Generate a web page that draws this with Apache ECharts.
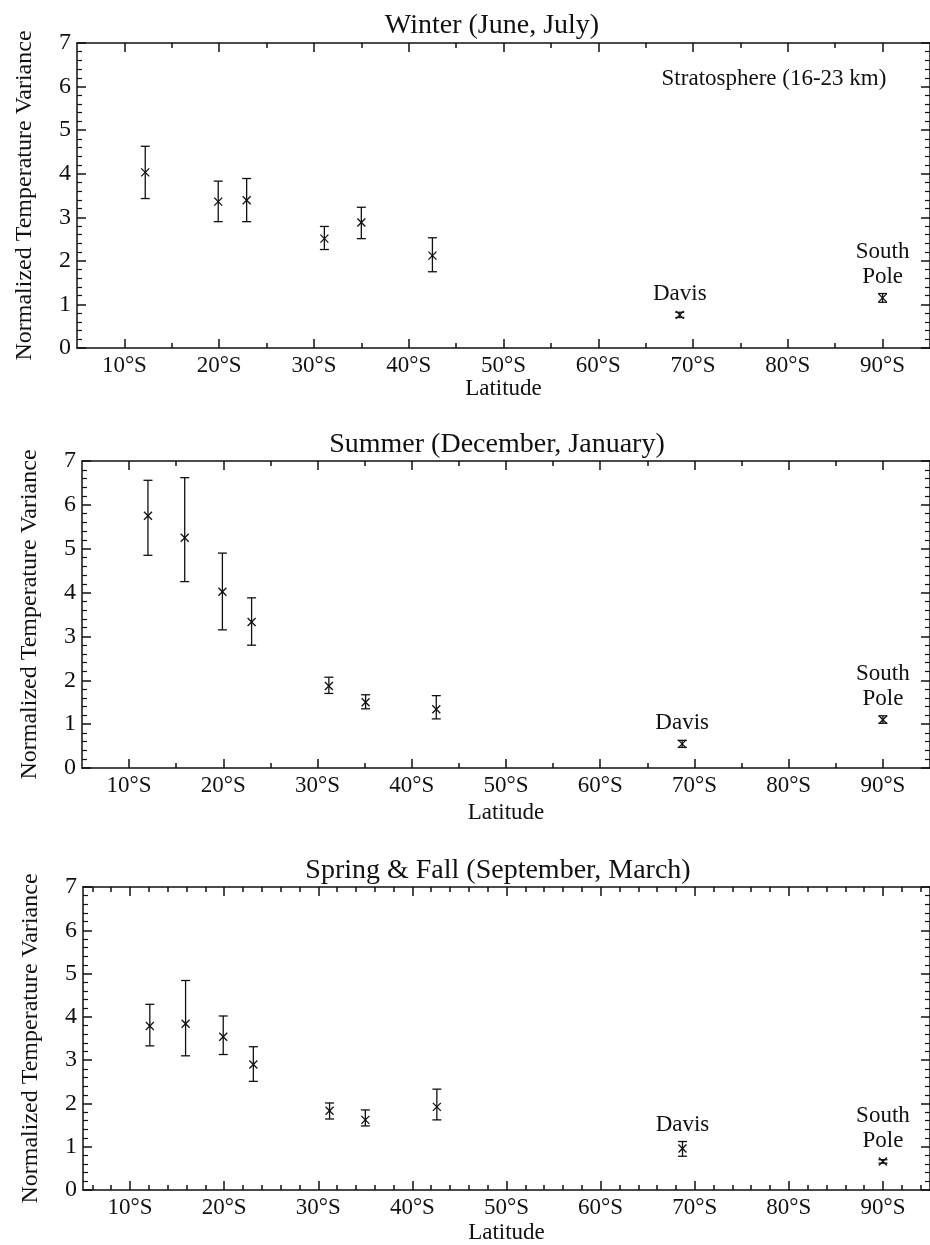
<!DOCTYPE html>
<html>
<head>
<meta charset="utf-8">
<script src="https://cdn.jsdelivr.net/npm/echarts@6/dist/echarts.min.js"></script>
<style>html,body{margin:0;padding:0;background:#fff}#c{width:930px;height:1245px}</style>
</head>
<body>
<div id="c"></div>
<script>
// ---- data ----
const panelTitles = ['Winter (June, July)', 'Summer (December, January)', 'Spring & Fall (September, March)'];
const xTickValues = [10, 20, 30, 40, 50, 60, 70, 80, 90];

const winterLat  = [12.2, 19.9, 22.9, 31.1, 35.0, 42.5, 68.6, 90.0];
const winterVal  = [4.03, 3.36, 3.39, 2.51, 2.88, 2.12, 0.76, 1.15];
const winterLow  = [3.43, 2.90, 2.90, 2.26, 2.51, 1.75, 0.70, 1.05];
const winterHigh = [4.63, 3.83, 3.89, 2.79, 3.23, 2.53, 0.82, 1.25];
const winterSite = ['', '', '', '', '', '', 'Davis', 'South\nPole'];

const summerLat  = [12.0, 15.9, 19.9, 23.0, 31.2, 35.1, 42.6, 68.7, 90.0];
const summerVal  = [5.75, 5.25, 4.02, 3.33, 1.87, 1.50, 1.34, 0.55, 1.10];
const summerLow  = [4.85, 4.25, 3.15, 2.80, 1.70, 1.35, 1.12, 0.47, 1.02];
const summerHigh = [6.56, 6.62, 4.90, 3.88, 2.07, 1.67, 1.65, 0.63, 1.19];
const summerSite = ['', '', '', '', '', '', '', 'Davis', 'South\nPole'];

const springLat  = [12.1, 15.9, 19.9, 23.1, 31.2, 35.0, 42.6, 68.7, 90.0];
const springVal  = [3.79, 3.84, 3.54, 2.90, 1.83, 1.62, 1.92, 0.96, 0.66];
const springLow  = [3.33, 3.10, 3.13, 2.51, 1.64, 1.48, 1.62, 0.78, 0.62];
const springHigh = [4.29, 4.84, 4.02, 3.31, 2.01, 1.85, 2.33, 1.12, 0.70];
const springSite = ['', '', '', '', '', '', '', 'Davis', 'South\nPole'];

const minorX5 = [15, 25, 35, 45, 55, 65, 75, 85];
const minorX2 = [6, 8, 12, 14, 16, 18, 22, 24, 26, 28, 32, 34, 36, 38, 42, 44, 46, 48, 52, 54, 56, 58, 62, 64, 66, 68, 72, 74, 76, 78, 82, 84, 86, 88, 92, 94];

// ---- chart ----
const FONT = '"Liberation Serif", "DejaVu Serif", serif';
const INK = '#111';
const panels = [
  {lat: winterLat, val: winterVal, low: winterLow, high: winterHigh, site: winterSite, minor: minorX5},
  {lat: summerLat, val: summerVal, low: summerLow, high: summerHigh, site: summerSite, minor: minorX5},
  {lat: springLat, val: springVal, low: springLow, high: springHigh, site: springSite, minor: minorX2}
];
const grids = [
  {left: 77, top: 43, right: 0, height: 305},
  {left: 82, top: 461, right: -5, height: 307},
  {left: 83, top: 887, right: -6, height: 307}
];
const titleTops = [12, 431, 857];
const titleCenters = [492, 497, 498];
const latGap = [28, 33, 31];

const xAxis = [], yAxis = [], series = [], title = [];
const lineStyle = {color: INK, width: 1.5};

grids.forEach((g, i) => {
  const p = panels[i];
  title.push({text: panelTitles[i], left: titleCenters[i], top: titleTops[i], textAlign: 'center', padding: 0,
    textStyle: {fontFamily: FONT, fontSize: 28, fontWeight: 'normal', color: INK}});
  const base = xAxis.length;
  // bottom main
  xAxis.push({gridIndex: i, type: 'value', min: 5, max: 95, position: 'bottom',
    axisLine: {show: true, onZero: false, lineStyle},
    axisTick: {show: true, inside: true, length: 9, customValues: xTickValues, lineStyle},
    axisLabel: {show: true, customValues: xTickValues, formatter: v => v + '°S', margin: 6,
      fontFamily: FONT, fontSize: 23, color: INK},
    splitLine: {show: false},
    name: 'Latitude', nameLocation: 'middle', nameGap: latGap[i],
    nameTextStyle: {fontFamily: FONT, fontSize: 23, color: INK}});
  // bottom minor
  xAxis.push({gridIndex: i, type: 'value', min: 5, max: 95, position: 'bottom',
    axisLine: {show: false, onZero: false},
    axisTick: {show: true, inside: true, length: 5, customValues: p.minor, lineStyle},
    axisLabel: {show: false}, splitLine: {show: false}});
  // top main
  xAxis.push({gridIndex: i, type: 'value', min: 5, max: 95, position: 'top',
    axisLine: {show: true, onZero: false, lineStyle},
    axisTick: {show: true, inside: true, length: 9, customValues: xTickValues, lineStyle},
    axisLabel: {show: false}, splitLine: {show: false}});
  // top minor
  xAxis.push({gridIndex: i, type: 'value', min: 5, max: 95, position: 'top',
    axisLine: {show: false, onZero: false},
    axisTick: {show: true, inside: true, length: 5, customValues: p.minor, lineStyle},
    axisLabel: {show: false}, splitLine: {show: false}});

  const yBase = yAxis.length;
  yAxis.push({gridIndex: i, type: 'value', min: 0, max: 7, interval: 1, position: 'left',
    axisLine: {show: true, onZero: false, lineStyle},
    axisTick: {show: true, inside: true, length: 9, lineStyle},
    minorTick: {show: true, splitNumber: 5, length: 5, lineStyle: {color: INK, width: 1.2}},
    axisLabel: {show: true, margin: 6, fontFamily: FONT, fontSize: 24, color: INK},
    splitLine: {show: false}, minorSplitLine: {show: false},
    name: 'Normalized Temperature Variance', nameLocation: 'middle', nameGap: 40,
    nameTextStyle: {fontFamily: FONT, fontSize: 24, color: INK}});
  yAxis.push({gridIndex: i, type: 'value', min: 0, max: 7, interval: 1, position: 'right',
    axisLine: {show: true, onZero: false, lineStyle},
    axisTick: {show: true, inside: true, length: 9, lineStyle},
    minorTick: {show: true, splitNumber: 5, length: 5, lineStyle: {color: INK, width: 1.2}},
    axisLabel: {show: false}, splitLine: {show: false}});

  const data = p.lat.map((x, k) => [x, p.val[k], p.low[k], p.high[k]]);
  const sites = p.site;
  series.push({
    type: 'custom', xAxisIndex: base, yAxisIndex: yBase, clip: false,
    encode: {x: 0, y: [1, 2, 3]},
    data: data,
    renderItem: function (params, api) {
      const x = api.value(0), v = api.value(1), lo = api.value(2), hi = api.value(3);
      const pc = api.coord([x, v]), pl = api.coord([x, lo]), ph = api.coord([x, hi]);
      const c = 4.5, m = 4;
      const st = {stroke: INK, lineWidth: 1.3, fill: null};
      const ch = [
        {type: 'line', shape: {x1: pc[0], y1: pl[1], x2: pc[0], y2: ph[1]}, style: st},
        {type: 'line', shape: {x1: pc[0] - c, y1: pl[1], x2: pc[0] + c, y2: pl[1]}, style: st},
        {type: 'line', shape: {x1: pc[0] - c, y1: ph[1], x2: pc[0] + c, y2: ph[1]}, style: st},
        {type: 'line', shape: {x1: pc[0] - m, y1: pc[1] - m, x2: pc[0] + m, y2: pc[1] + m}, style: st},
        {type: 'line', shape: {x1: pc[0] - m, y1: pc[1] + m, x2: pc[0] + m, y2: pc[1] - m}, style: st}
      ];
      const lab = sites[params.dataIndex];
      if (lab) {
        ch.push({type: 'text', x: pc[0], y: Math.min(ph[1], pc[1] - m) - 4,
          style: {text: lab, fontFamily: FONT, fontSize: 23, fill: INK, align: 'center',
            verticalAlign: 'bottom', lineHeight: 25}});
      }
      return {type: 'group', children: ch};
    }
  });
});

title.push({text: 'Stratosphere (16-23 km)', left: 774, top: 67, textAlign: 'center', padding: 0,
  textStyle: {fontFamily: FONT, fontSize: 23, fontWeight: 'normal', color: INK}});

const chart = echarts.init(document.getElementById('c'), null, {renderer: 'canvas'});
chart.setOption({
  backgroundColor: '#fff',
  animation: false,
  title: title,
  grid: grids,
  xAxis: xAxis,
  yAxis: yAxis,
  series: series
});
</script>
</body>
</html>
